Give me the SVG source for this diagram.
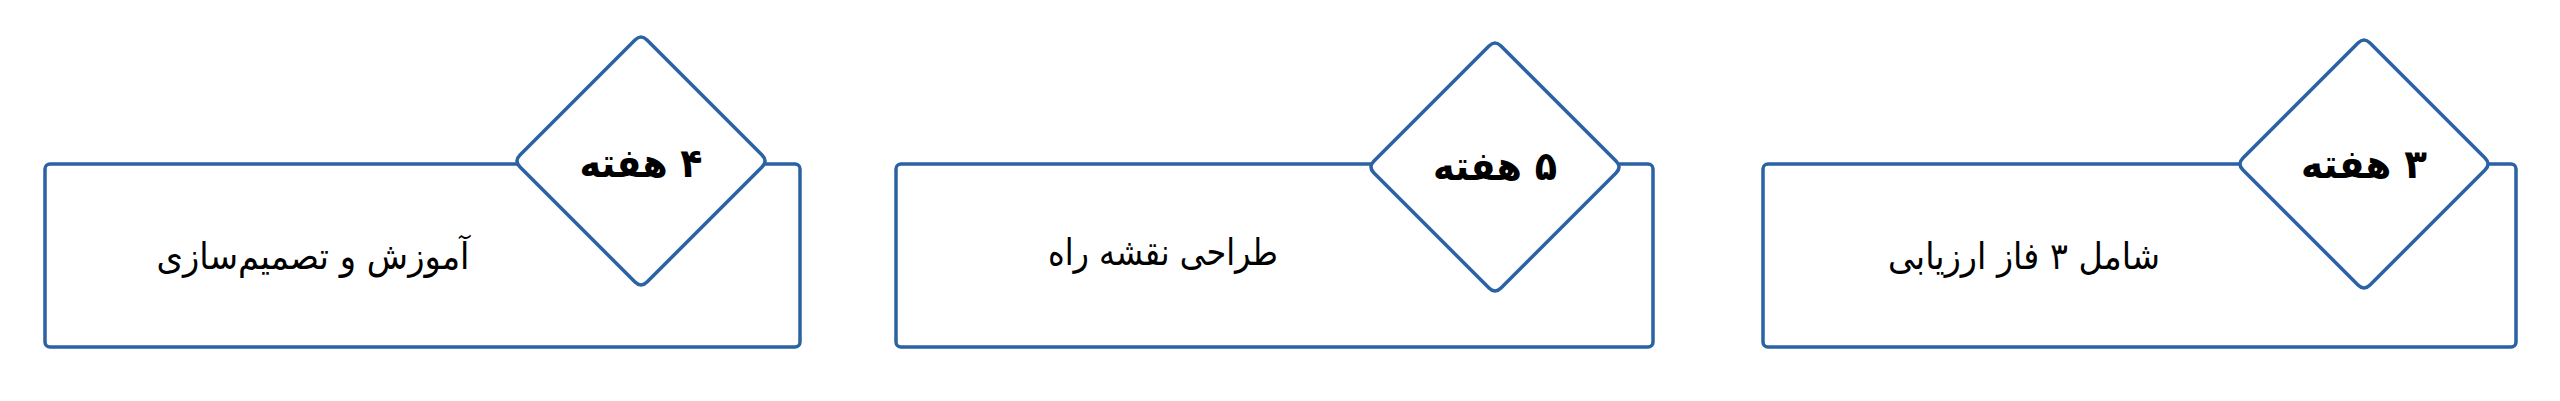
<svg xmlns="http://www.w3.org/2000/svg" width="2560" height="401" viewBox="0 0 2560 401">
  <style>
    .box { fill: #ffffff; stroke: #2A62A4; stroke-width: 3.5; }
    .dia { fill: #ffffff; stroke: #2A62A4; stroke-width: 3.5; stroke-linejoin: round; }
    .title { font-family: "DejaVu Sans", "Noto Sans", sans-serif; font-weight: bold; font-size: 40px; fill: #000000; text-anchor: middle; }
    .body { font-family: "DejaVu Sans", "Noto Sans", sans-serif; font-size: 37px; fill: #000000; text-anchor: middle; }
  </style>
  <defs>
    <path id="diamond" d="M -6,-121 Q 0,-127 6,-121 L 121,-6 Q 127,0 121,6 L 6,121 Q 0,127 -6,121 L -121,6 Q -127,0 -121,-6 Z"/>
  </defs>
  <rect width="2560" height="401" fill="#ffffff"/>
  <g id="connectors"></g>
  <g id="node-4-weeks">
    <rect class="box" x="45" y="164" width="755" height="183" rx="5" ry="5"/>
    <use href="#diamond" class="dia" transform="translate(641,161)"/>
    <text class="title" x="641" y="177" direction="rtl" textLength="123" lengthAdjust="spacingAndGlyphs">۴ هفته</text>
    <text class="body" x="313" y="269" direction="rtl" textLength="313" lengthAdjust="spacingAndGlyphs">آموزش و تصمیم‌سازی</text>
  </g>
  <g id="node-5-weeks">
    <rect class="box" x="896" y="164" width="757" height="183" rx="5" ry="5"/>
    <use href="#diamond" class="dia" transform="translate(1495,167)"/>
    <text class="title" x="1495" y="180" direction="rtl" textLength="124" lengthAdjust="spacingAndGlyphs">۵ هفته</text>
    <text class="body" x="1163" y="265" direction="rtl" textLength="230" lengthAdjust="spacingAndGlyphs">طراحی نقشه راه</text>
  </g>
  <g id="node-3-weeks">
    <rect class="box" x="1763" y="164" width="753" height="183" rx="5" ry="5"/>
    <use href="#diamond" class="dia" transform="translate(2364,164)"/>
    <text class="title" x="2364" y="178" direction="rtl" textLength="126" lengthAdjust="spacingAndGlyphs">۳ هفته</text>
    <text class="body" x="2024" y="269" direction="rtl" textLength="272" lengthAdjust="spacingAndGlyphs">شامل ۳ فاز ارزیابی</text>
  </g>
</svg>
